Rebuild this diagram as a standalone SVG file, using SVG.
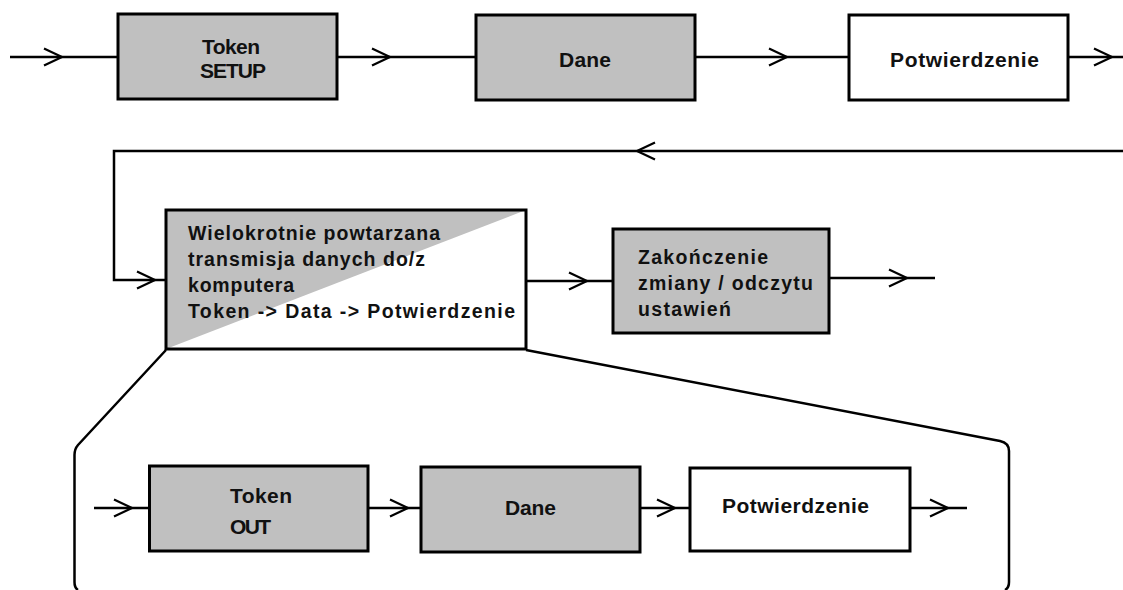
<svg xmlns="http://www.w3.org/2000/svg" width="1123" height="590" viewBox="0 0 1123 590">
<defs>
<style>
.box{stroke:#000;stroke-width:3;}
.g{fill:#c0c0c0;}
.w{fill:#fff;}
.t{font-family:"Liberation Sans",Arial,sans-serif;font-weight:bold;fill:#111;}
.t20{font-size:21px;}
.t19{font-size:19.5px;}
.ln{fill:none;stroke:#000;stroke-width:2.5;stroke-linejoin:miter;}
</style>
<marker id="chev" markerUnits="userSpaceOnUse" markerWidth="24" markerHeight="24" refX="20" refY="10" orient="auto" viewBox="0 0 24 20">
<path d="M2,1.5 L20,10 L2,18.5" fill="none" stroke="#000" stroke-width="2.2"/>
</marker>
</defs>
<rect width="1123" height="590" fill="#fff"/>

<g id="connectors">
<path class="ln" d="M10,57 L62,57 L118,57" marker-mid="url(#chev)"/>
<path class="ln" d="M337,57 L390,57 L475,57" marker-mid="url(#chev)"/>
<path class="ln" d="M695,57 L787,57 L849,57" marker-mid="url(#chev)"/>
<path class="ln" d="M1068,57 L1112,57 L1123,57" marker-mid="url(#chev)"/>
<path class="ln" d="M1123,151 L637,151" marker-end="url(#chev)"/>
<path class="ln" d="M637,151 L114,151 L114,280 L155,280" marker-end="url(#chev)"/>
<path class="ln" d="M155,280 L166,280"/>
<path class="ln" d="M526,281 L587,281 L613,281" marker-mid="url(#chev)"/>
<path class="ln" d="M829,278 L907,278 L935,278" marker-mid="url(#chev)"/>
<path class="ln" d="M166,350 L78,445 Q74.5,449 74.5,455 L74.5,582 Q74.5,588 78,590"/>
<path class="ln" d="M526,350 L1000,441 Q1009,443 1009,451 L1009,582 Q1009,588 1005,590"/>
<path class="ln" d="M94,508 L132,508 L149,508" marker-mid="url(#chev)"/>
<path class="ln" d="M368,508 L408,508 L421,508" marker-mid="url(#chev)"/>
<path class="ln" d="M640,508 L675,508 L690,508" marker-mid="url(#chev)"/>
<path class="ln" d="M910,508 L948,508 L967,508" marker-mid="url(#chev)"/>
</g>

<g id="token-setup">
<rect class="box g" x="118" y="14" width="219" height="85"/>
<text class="t t20" x="202" y="54" textLength="58" lengthAdjust="spacing">Token</text>
<text class="t t20" x="200" y="78" textLength="66" lengthAdjust="spacing">SETUP</text>
</g>

<g id="dane-top">
<rect class="box g" x="476" y="15" width="219" height="85"/>
<text class="t t20" x="559" y="67" textLength="52" lengthAdjust="spacing">Dane</text>
</g>

<g id="potwierdzenie-top">
<rect class="box w" x="849" y="15" width="219" height="85"/>
<text class="t t20" x="890" y="67" textLength="149" lengthAdjust="spacing">Potwierdzenie</text>
</g>

<g id="wielokrotnie">
<rect class="w" x="166" y="210" width="360" height="139"/>
<polygon class="g" points="166,210 526,210 166,349"/>
<rect class="box" x="166" y="210" width="360" height="139" fill="none"/>
<text class="t t19" x="188" y="240" textLength="252" lengthAdjust="spacing">Wielokrotnie powtarzana</text>
<text class="t t19" x="188" y="266" textLength="237" lengthAdjust="spacing">transmisja danych do/z</text>
<text class="t t19" x="188" y="292" textLength="106" lengthAdjust="spacing">komputera</text>
<text class="t t19" x="188" y="318" textLength="327" lengthAdjust="spacing">Token -&gt; Data -&gt; Potwierdzenie</text>
</g>

<g id="zakonczenie">
<rect class="box g" x="613" y="229" width="216" height="104"/>
<text class="t t19" x="638" y="264" textLength="130" lengthAdjust="spacing">Zakończenie</text>
<text class="t t19" x="638" y="290" textLength="175" lengthAdjust="spacing">zmiany / odczytu</text>
<text class="t t19" x="638" y="316" textLength="93" lengthAdjust="spacing">ustawień</text>
</g>

<g id="token-out">
<rect class="box g" x="149.5" y="466" width="218.5" height="85"/>
<text class="t t20" x="230" y="503" textLength="62" lengthAdjust="spacing">Token</text>
<text class="t t20" x="230" y="534" textLength="41" lengthAdjust="spacing">OUT</text>
</g>

<g id="dane-bottom">
<rect class="box g" x="421" y="467" width="219" height="85"/>
<text class="t t20" x="505" y="515" textLength="51" lengthAdjust="spacing">Dane</text>
</g>

<g id="potwierdzenie-bottom">
<rect class="box w" x="690" y="468" width="220" height="83"/>
<text class="t t20" x="722" y="513" textLength="147" lengthAdjust="spacing">Potwierdzenie</text>
</g>
</svg>
